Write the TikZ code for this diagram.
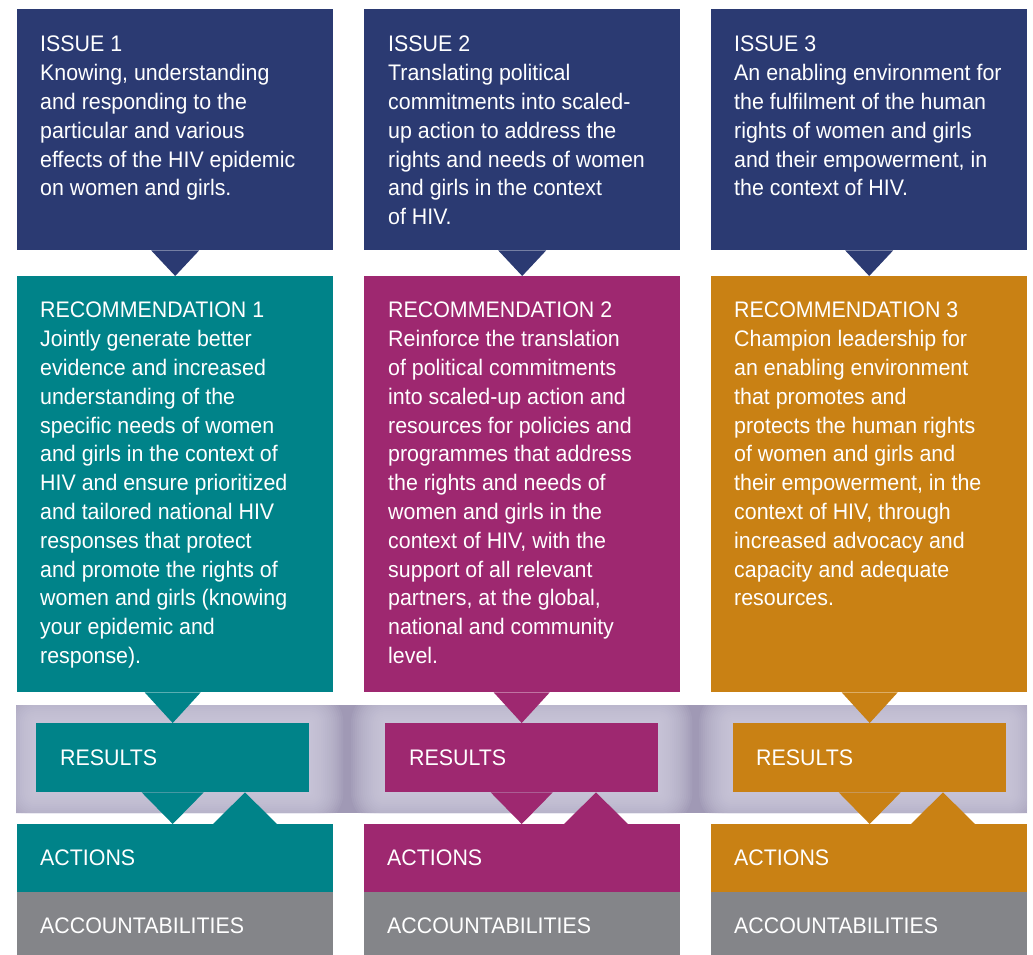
\documentclass[tikz,border=0pt]{standalone}
\usepackage{fontspec}
\setmainfont{Liberation Sans}[FakeStretch=0.95]
\usetikzlibrary{backgrounds}

\definecolor{issueblue}{RGB}{43,58,114}
\definecolor{recteal}{RGB}{0,131,137}
\definecolor{recmagenta}{RGB}{158,40,112}
\definecolor{recorange}{RGB}{201,129,20}
\definecolor{accgrey}{RGB}{132,133,137}
\definecolor{bandlilac}{RGB}{160,153,181}
\definecolor{glowlilac}{RGB}{214,211,228}

\tikzset{
    box/.style={rectangle, inner sep=0pt, minimum width=316pt, anchor=north west},
    issuebox/.style={box, fill=issueblue, minimum height=241pt},
    recbox/.style={box, minimum height=416pt},
    resbox/.style={box, minimum width=273pt, minimum height=69pt},
    actbox/.style={box, minimum height=68pt},
    accbox/.style={box, fill=accgrey, minimum height=63pt},
    txt/.style={text=white, align=left, inner sep=0pt, anchor=north west,
        font=\fontsize{22.5}{28.8}\selectfont},
    lbl/.style={text=white, inner sep=0pt, anchor=west,
        font=\fontsize{22.5}{28.8}\selectfont},
    glow/.style={fill=glowlilac, opacity=0.09},
}

\begin{document}
\begin{tikzpicture}[x=1pt, y=-1pt]
    \useasboundingbox (0,0) rectangle (1033,955);

    % column 1
    \node[issuebox] (i1) at (17,9) {};
    \node[recbox, fill=recteal] (r1) at (17,276) {};
    \node[resbox, fill=recteal] (s1) at (36,723) {};
    \node[actbox, fill=recteal] (a1) at (17,824) {};
    \node[accbox] (c1) at (17,892) {};

    % column 2
    \node[issuebox] (i2) at (364,9) {};
    \node[recbox, fill=recmagenta] (r2) at (364,276) {};
    \node[resbox, fill=recmagenta] (s2) at (385,723) {};
    \node[actbox, fill=recmagenta] (a2) at (364,824) {};
    \node[accbox] (c2) at (364,892) {};

    % column 3
    \node[issuebox] (i3) at (711,9) {};
    \node[recbox, fill=recorange] (r3) at (711,276) {};
    \node[resbox, fill=recorange] (s3) at (733,723) {};
    \node[actbox, fill=recorange] (a3) at (711,824) {};
    \node[accbox] (c3) at (711,892) {};

    % pointers between the boxes
    \fill[issueblue] ([xshift=-24pt]i1.south) -- ([xshift=24pt]i1.south) -- (r1.north) -- cycle;
    \fill[issueblue] ([xshift=-24pt]i2.south) -- ([xshift=24pt]i2.south) -- (r2.north) -- cycle;
    \fill[issueblue] ([xshift=-24pt]i3.south) -- ([xshift=24pt]i3.south) -- (r3.north) -- cycle;

    \fill[recteal] ([xshift=-28pt]s1.north |- r1.south) -- ([xshift=28pt]s1.north |- r1.south) -- (s1.north) -- cycle;
    \fill[recmagenta] ([xshift=-28pt]s2.north |- r2.south) -- ([xshift=28pt]s2.north |- r2.south) -- (s2.north) -- cycle;
    \fill[recorange] ([xshift=-28pt]s3.north |- r3.south) -- ([xshift=28pt]s3.north |- r3.south) -- (s3.north) -- cycle;

    \fill[recteal] ([xshift=-31pt]s1.south) -- ([xshift=31pt]s1.south) -- (s1.south |- a1.north) -- cycle;
    \fill[recmagenta] ([xshift=-31pt]s2.south) -- ([xshift=31pt]s2.south) -- (s2.south |- a2.north) -- cycle;
    \fill[recorange] ([xshift=-31pt]s3.south) -- ([xshift=31pt]s3.south) -- (s3.south |- a3.north) -- cycle;

    \coordinate (u1) at ([xshift=228pt]a1.north west);
    \coordinate (u2) at ([xshift=232pt]a2.north west);
    \coordinate (u3) at ([xshift=232pt]a3.north west);
    \fill[recteal] ([xshift=-32pt]u1) -- ([xshift=32pt]u1) -- (u1 |- s1.south) -- cycle;
    \fill[recmagenta] ([xshift=-32pt]u2) -- ([xshift=32pt]u2) -- (u2 |- s2.south) -- cycle;
    \fill[recorange] ([xshift=-32pt]u3) -- ([xshift=32pt]u3) -- (u3 |- s3.south) -- cycle;

    % the results band, lighter round each box
    \begin{pgfonlayer}{background}
        \node[box, fill=bandlilac, minimum width=1011pt, minimum height=108pt] (band) at (16,705) {};
        \begin{scope}
            \clip (band.north west) rectangle (band.south east);
            \foreach \s in {s1,s2,s3}
                \foreach \g in {34,32,...,2}
                    \fill[glow, rounded corners=\g pt] ([xshift=-\g pt,yshift=\g pt]\s.north west) rectangle ([xshift=\g pt,yshift=-\g pt]\s.south east);
        \end{scope}
    \end{pgfonlayer}

    % texts
    \node[txt] (ti1) at ([xshift=23pt,yshift=-27pt]i1.north west) {ISSUE 1\\
        Knowing, understanding\\ and responding to the\\ particular and various\\
        effects of the HIV epidemic\\ on women and girls.};
    \node[txt] (ti2) at ([xshift=24pt,yshift=-27pt]i2.north west) {ISSUE 2\\
        Translating political\\ commitments into scaled-\\ up action to address the\\
        rights and needs of women\\ and girls in the context\\ of HIV.};
    \node[txt] (ti3) at ([xshift=23pt,yshift=-27pt]i3.north west) {ISSUE 3\\
        An enabling environment for\\ the fulfilment of the human\\ rights of women and girls\\
        and their empowerment, in\\ the context of HIV.};

    \node[txt] (tr1) at ([xshift=23pt,yshift=-26pt]r1.north west) {RECOMMENDATION 1\\
        Jointly generate better\\ evidence and increased\\ understanding of the\\
        specific needs of women\\ and girls in the context of\\ HIV and ensure prioritized\\
        and tailored national HIV\\ responses that protect\\ and promote the rights of\\
        women and girls (knowing\\ your epidemic and\\ response).};
    \node[txt] (tr2) at ([xshift=24pt,yshift=-26pt]r2.north west) {RECOMMENDATION 2\\
        Reinforce the translation\\ of political commitments\\ into scaled-up action and\\
        resources for policies and\\ programmes that address\\ the rights and needs of\\
        women and girls in the\\ context of HIV, with the\\ support of all relevant\\
        partners, at the global,\\ national and community\\ level.};
    \node[txt] (tr3) at ([xshift=23pt,yshift=-26pt]r3.north west) {RECOMMENDATION 3\\
        Champion leadership for\\ an enabling environment\\ that promotes and\\
        protects the human rights\\ of women and girls and\\ their empowerment, in the\\
        context of HIV, through\\ increased advocacy and\\ capacity and adequate\\ resources.};

    \node[lbl] (ts1) at ([xshift=24pt]s1.west) {RESULTS};
    \node[lbl] (ts2) at ([xshift=24pt]s2.west) {RESULTS};
    \node[lbl] (ts3) at ([xshift=23pt]s3.west) {RESULTS};

    \node[lbl] (ta1) at ([xshift=23pt]a1.west) {ACTIONS};
    \node[lbl] (ta2) at ([xshift=23pt]a2.west) {ACTIONS};
    \node[lbl] (ta3) at ([xshift=23pt]a3.west) {ACTIONS};

    \node[lbl] (tc1) at ([xshift=23pt,yshift=-2pt]c1.west) {ACCOUNTABILITIES};
    \node[lbl] (tc2) at ([xshift=23pt,yshift=-2pt]c2.west) {ACCOUNTABILITIES};
    \node[lbl] (tc3) at ([xshift=23pt,yshift=-2pt]c3.west) {ACCOUNTABILITIES};
\end{tikzpicture}
\end{document}
